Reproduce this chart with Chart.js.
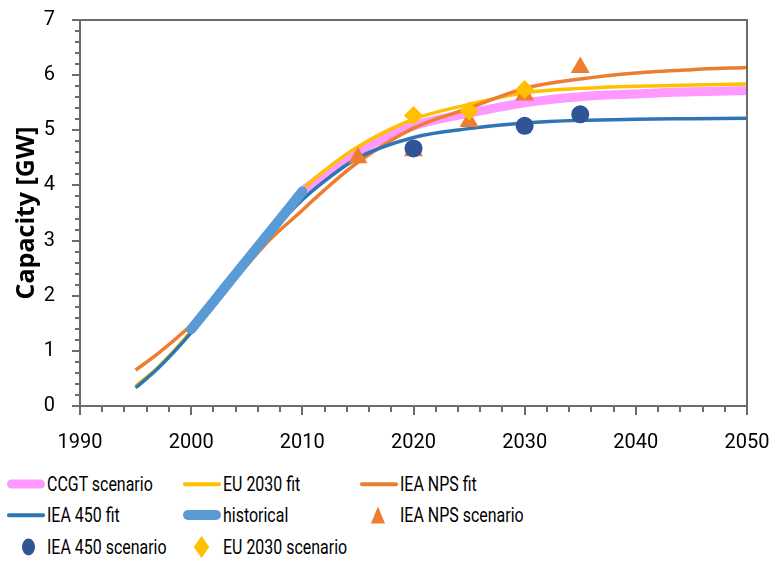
<!DOCTYPE html>
<html>
<head>
<meta charset="utf-8">
<script src="https://cdn.jsdelivr.net/npm/chart.js@4"></script>
<style>
  body { margin: 0; background: #fff; }
  #wrap { position: relative; width: 775px; height: 563px; overflow: hidden; }
  #chart { position: absolute; left: 0; top: 0; }
  .item { position: absolute; height: 30px; font: 21px Roboto, sans-serif; color: #000; white-space: nowrap; }
  .item span { position: absolute; top: 50%; transform: translateY(-50%) scaleX(0.76); transform-origin: left center; }
  .sw { position: absolute; top: 50%; transform: translateY(-50%); }
</style>
</head>
<body>
<div id="wrap">
  <canvas id="chart" width="775" height="463"></canvas>
  <div id="legend"></div>
</div>
<script>
// values
const fitYears = [1995, 1997, 2000, 2003, 2005, 2007, 2010, 2012, 2015, 2020, 2025, 2030, 2035, 2040, 2045, 2050];
const iea450Fit = [0.33, 0.68, 1.33, 2.1, 2.6, 3.1, 3.74, 4.08, 4.5, 4.87, 5.03, 5.13, 5.18, 5.2, 5.21, 5.22];
const eu2030Fit = [0.36, 0.7, 1.36, 2.15, 2.66, 3.18, 3.92, 4.27, 4.7, 5.2, 5.47, 5.68, 5.76, 5.8, 5.82, 5.84];
const ieaNpsFit = [0.65, 0.95, 1.47, 2.1, 2.55, 3.0, 3.55, 3.92, 4.42, 5.04, 5.4, 5.76, 5.93, 6.04, 6.1, 6.14];

const ccgtYears = [2010, 2012, 2015, 2020, 2025, 2030, 2035, 2040, 2045, 2050];
const ccgtScenario = [3.9, 4.2, 4.61, 5.08, 5.31, 5.5, 5.61, 5.66, 5.7, 5.72];

const histYears = [2000, 2001, 2002, 2003, 2004, 2005, 2006, 2007, 2008, 2009, 2010];
const historical = [1.39, 1.64, 1.89, 2.14, 2.39, 2.64, 2.89, 3.14, 3.39, 3.64, 3.89];

const npsYears = [2015, 2020, 2025, 2030, 2035];
const npsScenario = [4.5, 4.63, 5.16, 5.64, 6.14];
const s450Years = [2020, 2030, 2035];
const s450Scenario = [4.67, 5.08, 5.29];
const euYears = [2020, 2025, 2030];
const euScenario = [5.27, 5.35, 5.74];

const pts = (xs, ys) => xs.map((x, i) => ({x, y: ys[i]}));

const font = 'Roboto, sans-serif';
const axisGrey = '#6b6b6b';

function line(label, xs, ys, color, width, extra) {
  return Object.assign({
    label, data: pts(xs, ys), borderColor: color, backgroundColor: color,
    borderWidth: width, pointRadius: 0, cubicInterpolationMode: 'monotone', fill: false
  }, extra || {});
}
function marks(label, xs, ys, color, style, r) {
  return {
    label, data: pts(xs, ys), showLine: false, pointStyle: style, pointRadius: r,
    pointBackgroundColor: color, pointBorderWidth: 0, borderColor: color, backgroundColor: color
  };
}

const datasets = [
  line('CCGT scenario', ccgtYears, ccgtScenario, '#FF99FF', 9),
  line('EU 2030 fit', fitYears, eu2030Fit, '#FFC000', 3.5),
  line('IEA NPS fit', fitYears, ieaNpsFit, '#ED7D31', 3.5),
  line('IEA 450 fit', fitYears, iea450Fit, '#2E75B6', 3.5),
  line('historical', histYears, historical, '#5B9BD5', 10, {borderCapStyle: 'round', cubicInterpolationMode: 'default', tension: 0}),
  marks('IEA NPS scenario', npsYears, npsScenario, '#ED7D31', 'triangle', 11),
  marks('IEA 450 scenario', s450Years, s450Scenario, '#2F5597', 'circle', 9),
  marks('EU 2030 scenario', euYears, euScenario, '#FFC000', 'rectRot', 9.5)
];
// first in the list is drawn at the bottom
datasets.forEach((d, i) => d.order = datasets.length - i);

// plot frame plus major / minor tick marks, placed through the scales
const frame = {
  id: 'frame',
  afterDatasetsDraw(chart) {
    const {ctx, chartArea: a, scales: {x, y}} = chart;
    ctx.save();
    ctx.strokeStyle = axisGrey;
    ctx.lineWidth = 2;
    ctx.strokeRect(a.left, a.top, a.right - a.left, a.bottom - a.top);
    ctx.beginPath();
    for (let v = 1990; v <= 2050; v += 2) {
      const px = Math.round(x.getPixelForValue(v));
      const len = v % 10 === 0 ? 9 : 6;
      ctx.moveTo(px, a.bottom); ctx.lineTo(px, a.bottom + len);
    }
    for (let k = 0; k <= 35; k++) {
      const py = Math.round(y.getPixelForValue(k / 5));
      const len = k % 5 === 0 ? 8 : 5;
      ctx.moveTo(a.left, py); ctx.lineTo(a.left - len, py);
    }
    ctx.stroke();
    ctx.restore();
  }
};

new Chart(document.getElementById('chart'), {
  type: 'line',
  data: {datasets},
  options: {
    responsive: false,
    animation: false,
    layout: {padding: {top: 20, right: 28, left: 0, bottom: 0}},
    plugins: {legend: {display: false}, tooltip: {enabled: false}},
    scales: {
      x: {
        type: 'linear', min: 1990, max: 2050,
        ticks: {stepSize: 10, color: '#000', font: {family: font, size: 20}, padding: 0, maxRotation: 0, callback: v => String(v)},
        // tick marks themselves come from the frame plugin; tickLength only sets the label gap
        grid: {display: false, drawTicks: true, tickLength: 25}, border: {display: false},
        afterFit: s => { s.height = 57; }
      },
      y: {
        min: 0, max: 7,
        ticks: {stepSize: 1, color: '#000', font: {family: font, size: 20}, padding: 0},
        grid: {display: false, drawTicks: true, tickLength: 25}, border: {display: false},
        title: {display: true, text: 'Capacity [GW]', color: '#000', font: {family: '"Open Sans", sans-serif', size: 25, weight: 'bold'}, padding: {top: 12, bottom: 0}},
        afterFit: s => { s.width = 80; }
      }
    }
  },
  plugins: [frame]
});

// legend in three columns like the original
const cols = [7, 183, 360];
const rows = [484, 515, 547];
const legend = document.getElementById('legend');
datasets.forEach((d, i) => {
  const c = cols[i % 3], r = rows[Math.floor(i / 3)];
  const el = document.createElement('div');
  el.className = 'item';
  el.style.left = c + 'px';
  el.style.top = (r - 15) + 'px';
  const sw = document.createElement('div');
  sw.className = 'sw';
  const col = d.borderColor;
  if (d.showLine === false) {
    if (d.pointStyle === 'circle') {
      sw.style.cssText += `left:15px;width:13px;height:17px;border-radius:50%;background:${col}`;
    } else if (d.pointStyle === 'rectRot') {
      sw.style.cssText += `left:13px;width:11px;height:11px;background:${col};transform:translateY(-50%) scaleY(1.4) rotate(45deg)`;
    } else {
      sw.style.cssText += `left:11px;width:0;height:0;border-left:7px solid transparent;border-right:7px solid transparent;border-bottom:17px solid ${col}`;
    }
  } else {
    const h = d.borderWidth;
    sw.style.cssText += `left:0;width:38px;height:${h}px;border-radius:${h / 2}px;background:${col}`;
  }
  const tx = document.createElement('span');
  tx.textContent = d.label;
  tx.style.left = '40px';
  el.appendChild(sw);
  el.appendChild(tx);
  legend.appendChild(el);
});
</script>
</body>
</html>
